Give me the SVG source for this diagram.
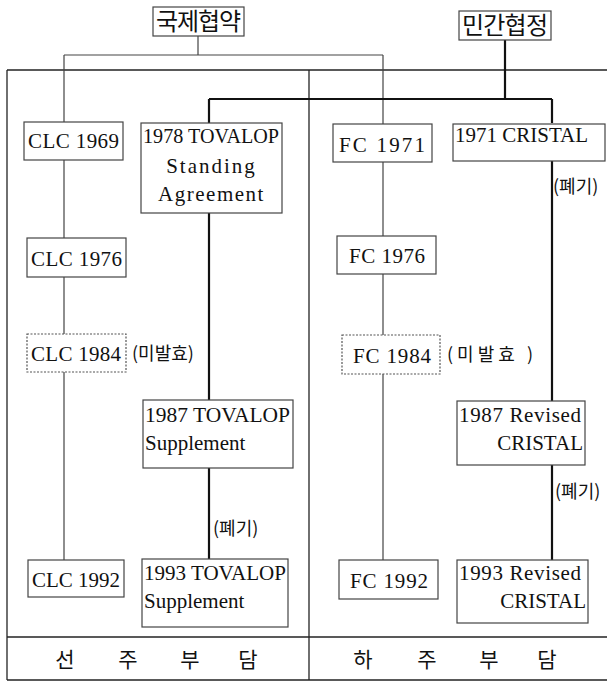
<svg xmlns="http://www.w3.org/2000/svg" width="607" height="682" viewBox="0 0 607 682">
<style>
.bg{fill:#fff}
.frame{fill:none;stroke:#222;stroke-width:1.3}
.thin{fill:none;stroke:#444;stroke-width:1.2}
.thick{fill:none;stroke:#111;stroke-width:2.2}
.box{fill:#fff;stroke:#444;stroke-width:1.2}
.dbox{fill:#fff;stroke:#555;stroke-width:1.2;stroke-dasharray:2 1.5}
.t{font-family:"Liberation Serif","DejaVu Serif",serif;font-size:21px;fill:#111}
.k{font-family:"Noto Sans CJK KR",sans-serif;fill:#111}
.kh{font-size:24px}
.kn{font-size:18px}
.kb{font-size:21px}
</style>
<rect class="bg" x="0" y="0" width="607" height="682"/>
<g id="frame">
<line class="frame" x1="7" y1="70" x2="607" y2="70"/>
<line class="frame" x1="7" y1="70" x2="7" y2="680"/>
<line class="frame" x1="309" y1="70" x2="309" y2="680"/>
<line class="frame" x1="7" y1="637" x2="607" y2="637"/>
<line class="frame" x1="7" y1="680" x2="607" y2="680"/>
</g>
<g id="connectors">
<path class="thin" d="M198 35 V55 M64 55 H383 M64 55 V122 M64 160 V238 M64 277 V334 M64 372 V560 M383 55 V124 M383 162 V236 M383 274 V335 M383 374 V560"/>
<path class="thick" d="M505 40 V99 M209 99 H552 M209 99 V123 M209 213 V400 M209 468 V559 M552 99 V123 M552 161 V401 M552 465 V560"/>
</g>
<g id="n-gukje"><rect class="box" x="153" y="7" width="91" height="29"/><text class="k kh" x="156" y="30" textLength="85">국제협약</text></g>
<g id="n-mingan"><rect class="box" x="459" y="11" width="92" height="29"/><text class="k kh" x="462" y="34" textLength="86">민간협정</text></g>
<g id="n-clc1969"><rect class="box" x="24" y="122" width="99" height="38"/><text class="t" x="28" y="148" textLength="91">CLC 1969</text></g>
<g id="n-tov1978"><rect class="box" x="141" y="123" width="141" height="90"/><text class="t" x="143" y="143" textLength="136" lengthAdjust="spacingAndGlyphs">1978 TOVALOP</text><text class="t" x="211.5" y="173" text-anchor="middle" letter-spacing="2">Standing</text><text class="t" x="211.5" y="201" text-anchor="middle" letter-spacing="1.5">Agreement</text></g>
<g id="n-fc1971"><rect class="box" x="333" y="124" width="99" height="38"/><text class="t" x="339" y="152" textLength="86">FC 1971</text></g>
<g id="n-cristal1971"><rect class="box" x="453" y="124" width="152" height="37"/><text class="t" x="455" y="142" textLength="133" lengthAdjust="spacingAndGlyphs">1971 CRISTAL</text></g>
<g id="n-fallback1"><text class="k kn" x="553" y="193">(폐기)</text></g>
<g id="n-clc1976"><rect class="box" x="27" y="238" width="99" height="39"/><text class="t" x="31" y="266" textLength="91">CLC 1976</text></g>
<g id="n-fc1976"><rect class="box" x="337" y="236" width="99" height="38"/><text class="t" x="349" y="263" textLength="76">FC 1976</text></g>
<g id="n-clc1984"><rect class="dbox" x="27" y="334" width="99" height="38"/><text class="t" x="31" y="361" textLength="90">CLC 1984</text><text class="k kn" x="132" y="360">(미발효)</text></g>
<g id="n-fc1984"><rect class="dbox" x="342" y="335" width="98" height="39"/><text class="t" x="353" y="363" textLength="78">FC 1984</text><text class="k kn" x="447" y="361" textLength="86">(미발효 )</text></g>
<g id="n-tov1987"><rect class="box" x="143" y="400" width="150" height="68"/><text class="t" x="145" y="422" textLength="145" lengthAdjust="spacingAndGlyphs">1987  TOVALOP</text><text class="t" x="145" y="450">Supplement</text></g>
<g id="n-cristal1987"><rect class="box" x="457" y="401" width="128" height="64"/><text class="t" x="459" y="422" textLength="122">1987 Revised</text><text class="t" x="583" y="450" text-anchor="end">CRISTAL</text></g>
<g id="n-fallback2"><text class="k kn" x="555" y="498">(폐기)</text></g>
<g id="n-fallback3"><text class="k kn" x="213" y="535">(폐기)</text></g>
<g id="n-clc1992"><rect class="box" x="28" y="560" width="96" height="37"/><text class="t" x="32" y="587" textLength="88">CLC 1992</text></g>
<g id="n-tov1993"><rect class="box" x="142" y="559" width="146" height="68"/><text class="t" x="144" y="580" textLength="142" lengthAdjust="spacingAndGlyphs">1993  TOVALOP</text><text class="t" x="144" y="608">Supplement</text></g>
<g id="n-fc1992"><rect class="box" x="339" y="560" width="99" height="39"/><text class="t" x="350" y="588" textLength="78">FC 1992</text></g>
<g id="n-cristal1993"><rect class="box" x="457" y="560" width="131" height="63"/><text class="t" x="459" y="580" textLength="122">1993 Revised</text><text class="t" x="586" y="608" text-anchor="end">CRISTAL</text></g>
<g id="n-band-left" class="k kb" text-anchor="middle"><text x="65" y="667">선</text><text x="128" y="667">주</text><text x="190" y="667">부</text><text x="248" y="667">담</text></g>
<g id="n-band-right" class="k kb" text-anchor="middle"><text x="363" y="667">하</text><text x="427" y="667">주</text><text x="489" y="667">부</text><text x="547" y="667">담</text></g>
</svg>
